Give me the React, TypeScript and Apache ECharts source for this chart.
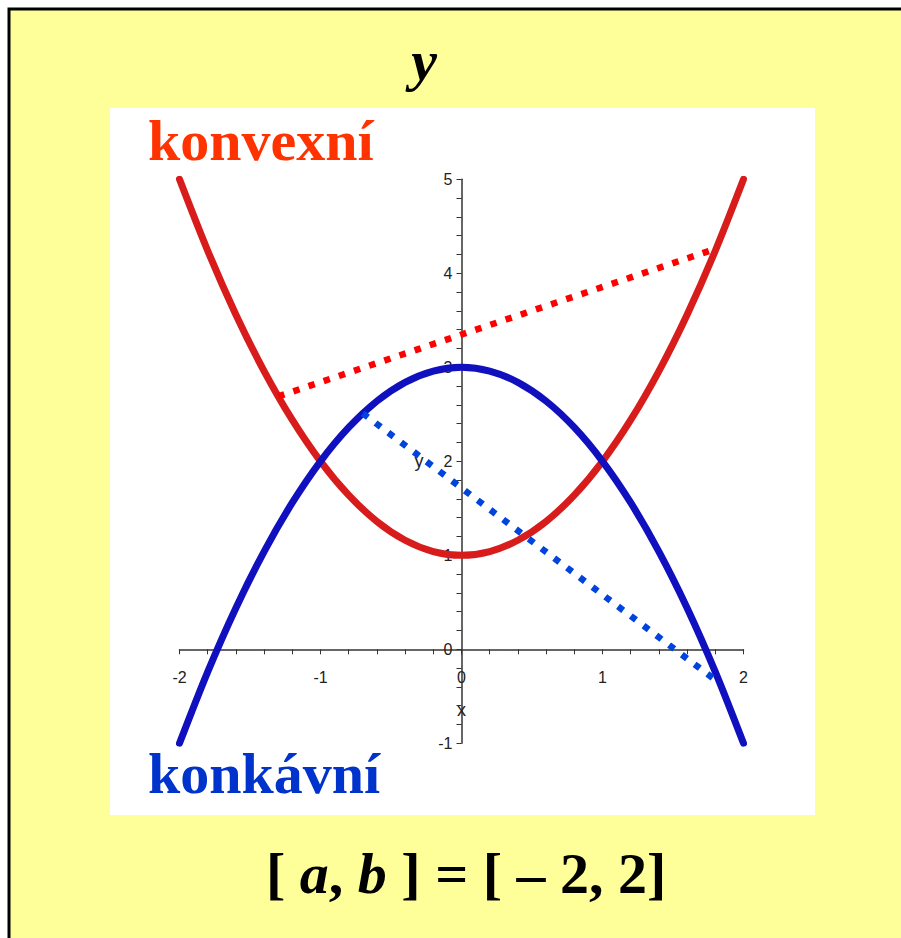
import React, { useEffect, useRef } from "react";
import * as echarts from "echarts";

// sampled x positions of the two curves
const xValues = [-2, -1.8, -1.6, -1.4, -1.2, -1, -0.8, -0.6, -0.4, -0.2, 0, 0.2, 0.4, 0.6, 0.8, 1, 1.2, 1.4, 1.6, 1.8, 2];
// convex (red) curve values
const convexValues = [5, 4.24, 3.56, 2.96, 2.44, 2, 1.64, 1.36, 1.16, 1.04, 1, 1.04, 1.16, 1.36, 1.64, 2, 2.44, 2.96, 3.56, 4.24, 5];
// concave (blue) curve values
const concaveValues = [-1, -0.24, 0.44, 1.04, 1.56, 2, 2.36, 2.64, 2.84, 2.96, 3, 2.96, 2.84, 2.64, 2.36, 2, 1.56, 1.04, 0.44, -0.24, -1];
// chords (dotted)
const convexChordX = [-1.3, 1.8];
const convexChordY = [2.69, 4.26];
const concaveChordX = [-0.7, 1.83];
const concaveChordY = [2.51, -0.36];

const xTicks = { min: -2, max: 2, interval: 1 };
const yTicks = { min: -1, max: 5, interval: 1 };

const labelConvex = "konvexní";
const labelConcave = "konkávní";
const labelY = "y";

function zip(a: number[], b: number[]) {
  return a.map((v, i) => [v, b[i]]);
}

export default function App() {
  const ref = useRef<HTMLDivElement>(null);
  useEffect(() => {
    if (!ref.current) return;
    const chart = echarts.init(ref.current, null, { renderer: "svg" });
    const serif = '"Liberation Serif", "Times New Roman", serif';
    const sans = '"Liberation Sans", Arial, sans-serif';
    const gridLeft = 179.5;
    const gridRight = 157.5;
    const gridTop = 179.3;
    const gridBottom = 194.7;
    const plotW = 901 - gridLeft - gridRight;
    const plotH = 938 - gridTop - gridBottom;
    // axes cross at (0, 0): shift them from the grid edges through the axis scale
    const xZeroOffset = -plotW * ((0 - xTicks.min) / (xTicks.max - xTicks.min));
    const yZeroOffset = -plotH * ((0 - yTicks.min) / (yTicks.max - yTicks.min));
    const axisCommon = {
      type: "value" as const,
      axisLine: { show: true, onZero: false, lineStyle: { color: "#333", width: 1.5 } },
      axisTick: { show: true, length: 5, lineStyle: { color: "#333", width: 1 } },
      minorTick: { show: true, splitNumber: 5, length: 5, lineStyle: { color: "#333", width: 1 } },
      splitLine: { show: false },
      minorSplitLine: { show: false },
    };
    chart.setOption({
      animation: false,
      backgroundColor: "transparent",
      grid: { left: gridLeft, right: gridRight, top: gridTop, bottom: gridBottom },
      xAxis: {
        ...axisCommon,
        ...xTicks,
        position: "bottom",
        offset: yZeroOffset,
        name: "x",
        nameLocation: "middle",
        nameGap: 52,
        nameTextStyle: { fontSize: 18, fontFamily: sans, color: "#222" },
        axisLabel: { margin: 20, fontSize: 16, fontFamily: sans, color: "#222" },
      },
      yAxis: {
        ...axisCommon,
        ...yTicks,
        position: "left",
        offset: xZeroOffset,
        name: "y",
        nameLocation: "middle",
        nameRotate: 0,
        nameGap: 38,
        nameTextStyle: { fontSize: 18, fontFamily: sans, color: "#222" },
        axisLabel: { margin: 9, fontSize: 16, fontFamily: sans, color: "#222" },
      },
      graphic: [
        {
          type: "rect",
          z: -100,
          silent: true,
          shape: { x: 9, y: 9, width: 1000, height: 1000 },
          style: { fill: "#FFFF99", stroke: "#000", lineWidth: 3 },
        },
        {
          type: "rect",
          z: -99,
          silent: true,
          shape: { x: 110, y: 108, width: 705, height: 707 },
          style: { fill: "#FFFFFF" },
        },
        {
          type: "text",
          z: 100,
          style: {
            text: labelY,
            x: 424,
            y: 60,
            align: "center",
            verticalAlign: "middle",
            fontSize: 58,
            fontWeight: "bold",
            fontStyle: "italic",
            fontFamily: serif,
            fill: "#000",
          },
        },
        {
          type: "text",
          z: 100,
          style: {
            text: labelConvex,
            x: 148,
            y: 140,
            align: "left",
            verticalAlign: "middle",
            fontSize: 58,
            fontWeight: "bold",
            fontFamily: serif,
            fill: "#FF3300",
          },
        },
        {
          type: "text",
          z: 100,
          style: {
            text: labelConcave,
            x: 148,
            y: 773,
            align: "left",
            verticalAlign: "middle",
            fontSize: 58,
            fontWeight: "bold",
            fontFamily: serif,
            fill: "#0033CC",
          },
        },
        {
          type: "text",
          z: 100,
          style: {
            text: "{n|[ }{i|a}{n|, }{i|b}{n| ] = [ – 2, 2]}",
            x: 266,
            y: 873,
            align: "left",
            verticalAlign: "middle",
            rich: {
              n: { fontSize: 58, fontWeight: "bold", fontFamily: serif, fill: "#000", color: "#000" },
              i: { fontSize: 58, fontWeight: "bold", fontStyle: "italic", fontFamily: serif, fill: "#000", color: "#000" },
            },
          },
        },
      ],
      series: [
        {
          type: "line",
          data: zip(xValues, convexValues),
          smooth: 0.3,
          showSymbol: false,
          symbol: "none",
          lineStyle: { color: "#D81C1C", width: 7, cap: "round", join: "round" },
          z: 2,
        },
        {
          type: "line",
          data: zip(xValues, concaveValues),
          smooth: 0.3,
          showSymbol: false,
          symbol: "none",
          lineStyle: { color: "#1010BE", width: 7, cap: "round", join: "round" },
          z: 3,
        },
        {
          type: "line",
          data: zip(convexChordX, convexChordY),
          showSymbol: false,
          symbol: "none",
          lineStyle: { color: "#FF0000", width: 6.5, type: [6.5, 9.5], cap: "butt" },
          z: 4,
        },
        {
          type: "line",
          data: zip(concaveChordX, concaveChordY),
          showSymbol: false,
          symbol: "none",
          lineStyle: { color: "#0044DD", width: 6.5, type: [6.5, 9.5], cap: "butt" },
          z: 5,
        },
      ],
    });
    return () => chart.dispose();
  }, []);
  return (
    <div
      ref={ref}
      style={{ position: "absolute", left: 0, top: 0, width: 901, height: 938 }}
    />
  );
}
